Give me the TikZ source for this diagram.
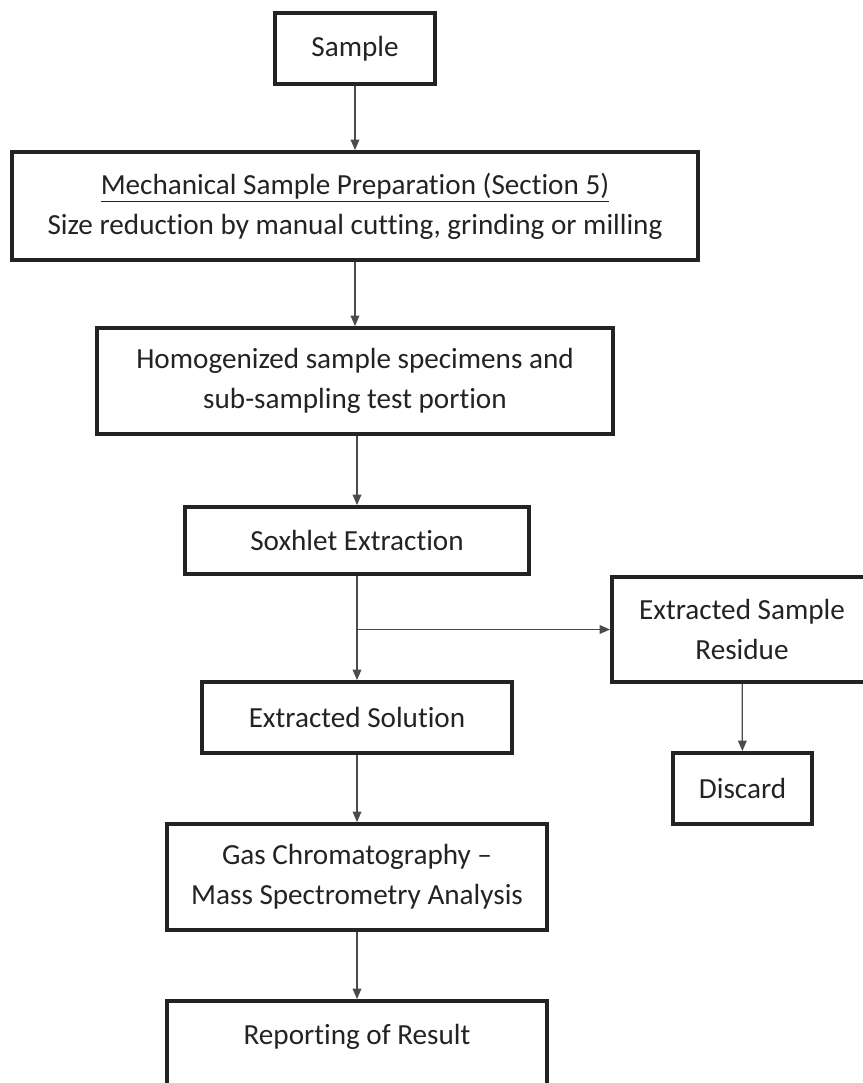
\documentclass[tikz,border=0pt]{standalone}
\usepackage{fontspec}
\setmainfont[Ligatures=NoCommon]{Carlito}
\usepackage{xcolor}
\usepackage{tikz}
\usetikzlibrary{arrows.meta,positioning}
\definecolor{inkgray}{RGB}{35, 35, 35}
\definecolor{linegray}{RGB}{75, 75, 75}

\begin{document}
\begin{tikzpicture}[
    box/.style={draw=inkgray, line width=2.2pt, text=inkgray, align=center, inner sep=0pt,
                font=\fontsize{16.6}{22.8}\selectfont},
    flow/.style={-{Triangle[length=6pt, width=5pt]}, linegray, line width=0.7pt}]
            \useasboundingbox (0,0) rectangle (17.24,-21.66);

            % Main column
            \node[box, minimum width=3.2cm, minimum height=1.42cm] (sample) at (7.10,-0.97) {Sample};
            \node[box, minimum width=13.72cm, minimum height=2.16cm] (mech) at (7.10,-4.12)
                {\underline{Mechanical Sample Preparation (Section 5)}\\Size reduction by manual cutting, grinding or milling};
            \node[box, minimum width=10.32cm, minimum height=2.12cm] (homog) at (7.10,-7.62)
                {Homogenized sample specimens and\\sub-sampling test portion};
            \node[box, minimum width=6.88cm, minimum height=1.34cm] (soxhlet) at (7.14,-10.81) {Soxhlet Extraction};
            \node[box, minimum width=6.2cm, minimum height=1.42cm] (solution) at (7.14,-14.35) {Extracted Solution};
            \node[box, minimum width=7.6cm, minimum height=2.12cm] (gcms) at (7.14,-17.54)
                {Gas Chromatography --\\Mass Spectrometry Analysis};
            \node[box, minimum width=7.6cm, minimum height=2.12cm] (report) at (7.14,-21.08)
                {Reporting of Result\\\mbox{}};

            % Side branch
            \node[box, minimum width=5.2cm, minimum height=2.1cm] (residue) at (14.84,-12.59)
                {Extracted Sample\\Residue};
            \node[box, minimum width=2.78cm, minimum height=1.42cm] (discard) at (14.85,-15.77) {Discard};

            % Arrows
            \draw[flow] (sample) -- (mech);
            \draw[flow] (mech) -- (homog);
            \draw[flow] (homog.south -| soxhlet.north) -- (soxhlet);
            \draw[flow] (soxhlet) -- (solution);
            \coordinate (split) at (soxhlet.south |- residue.west);
            \draw[flow] (split) -- (residue);
            \draw[flow] (residue) -- (discard);
            \draw[flow] (solution) -- (gcms);
            \draw[flow] (gcms) -- (report);
        \end{tikzpicture}
\end{document}
